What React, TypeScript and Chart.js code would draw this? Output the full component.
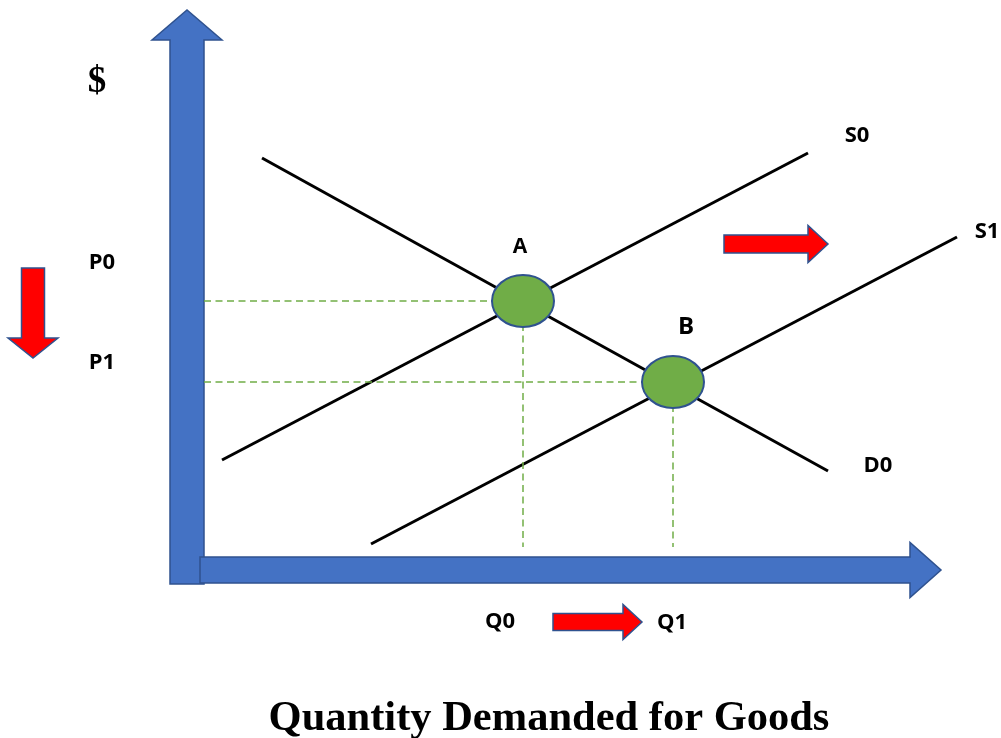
import React, { useEffect, useRef } from "react";
import { Chart, registerables } from "chart.js";

Chart.register(...registerables);

// Quantity (x) and price (y) end points of the curves
const DEMAND_D0_Q = [5.8, 62.4];
const DEMAND_D0_P = [39.9, 8.6];
const SUPPLY_S0_Q = [1.8, 60.4];
const SUPPLY_S0_P = [9.7, 40.4];
const SUPPLY_S1_Q = [16.7, 75.3];
const SUPPLY_S1_P = [1.3, 32.0];

// Equilibrium points before (A) and after (B) the supply shift
const EQUILIBRIUM_NAMES = ["A", "B"];
const EQUILIBRIUM_Q = [31.9, 46.9];
const EQUILIBRIUM_P = [25.6, 17.5];
const GUIDE_FLOOR_P = 1.0;

// Text shown next to the axes and curves
const PRICE_LABELS = ["P0", "P1"];
const QUANTITY_LABELS = ["Q0", "Q1"];
const CURVE_LABELS = ["S0", "S1", "D0"];
const PRICE_AXIS_LABEL = "$";
const QUANTITY_AXIS_TITLE = "Quantity Demanded for Goods";

// Visible window and axis arrow extents, in quantity / price units
const Q_RANGE = [-20.4, 79.7];
const P_RANGE = [-18.1, 55.7];
const AXIS_Q_END = 73.7;
const AXIS_P_END = 54.7;

// Placement of labels and shift arrows (quantity, price)
const LAYOUT = {
  priceAxisLabel: { q: -10.7, p: 47.5 },
  priceLabels: [
    { q: -10.2, p: 29.4 },
    { q: -10.2, p: 19.4 },
  ],
  quantityLabels: [
    { q: 29.6, p: -6.5 },
    { q: 46.8, p: -6.6 },
  ],
  curveLabels: [
    { q: 65.3, p: 42.1 },
    { q: 78.3, p: 32.5 },
    { q: 67.4, p: 9.1 },
  ],
  pointLabels: [
    { q: 31.6, p: 31.0 },
    { q: 48.2, p: 23.0 },
  ],
  title: { q: 34.5, p: -16.2 },
  priceShift: { from: { q: -17.1, p: 28.9 }, to: { q: -17.1, p: 19.9 } },
  supplyShift: { from: { q: 52.0, p: 31.3 }, to: { q: 62.4, p: 31.3 } },
  quantityShift: { from: { q: 34.9, p: -6.5 }, to: { q: 43.8, p: -6.5 } },
};

const AXIS_BLUE = "#4472C4";
const OUTLINE_BLUE = "#2F528F";
const GREEN = "#70AD47";
const RED = "#FF0000";
const LABEL_FONT = '"Open Sans", "Liberation Sans", sans-serif';
const SERIF_FONT = '"Liberation Serif", "Times New Roman", serif';

const pairs = (qs: number[], ps: number[]) => qs.map((q, i) => ({ x: q, y: ps[i] }));

function blockArrow(
  ctx: CanvasRenderingContext2D,
  x0: number,
  y0: number,
  x1: number,
  y1: number,
  shaftHalf: number,
  headHalf: number,
  headLen: number,
  fill: string,
  stroke: string,
  strokeWidth: number
) {
  const len = Math.hypot(x1 - x0, y1 - y0);
  const dx = (x1 - x0) / len;
  const dy = (y1 - y0) / len;
  const nx = -dy;
  const ny = dx;
  const bx = x1 - dx * headLen;
  const by = y1 - dy * headLen;
  ctx.beginPath();
  ctx.moveTo(x0 + nx * shaftHalf, y0 + ny * shaftHalf);
  ctx.lineTo(bx + nx * shaftHalf, by + ny * shaftHalf);
  ctx.lineTo(bx + nx * headHalf, by + ny * headHalf);
  ctx.lineTo(x1, y1);
  ctx.lineTo(bx - nx * headHalf, by - ny * headHalf);
  ctx.lineTo(bx - nx * shaftHalf, by - ny * shaftHalf);
  ctx.lineTo(x0 - nx * shaftHalf, y0 - ny * shaftHalf);
  ctx.closePath();
  ctx.fillStyle = fill;
  ctx.fill();
  ctx.lineWidth = strokeWidth;
  ctx.strokeStyle = stroke;
  ctx.lineJoin = "miter";
  ctx.stroke();
}

const diagramPlugin = {
  id: "supplyDemandDecor",
  beforeDatasetsDraw(chart: any) {
    const { ctx, scales } = chart;
    const xs = scales.x;
    const ys = scales.y;
    const ox = xs.getPixelForValue(0);
    const oy = ys.getPixelForValue(0);
    ctx.save();
    // price axis (vertical block arrow)
    blockArrow(ctx, ox - 17, oy + 27, ox - 17, ys.getPixelForValue(AXIS_P_END), 17, 35, 30, AXIS_BLUE, OUTLINE_BLUE, 1.5);
    // quantity axis (horizontal block arrow)
    blockArrow(ctx, ox - 4, oy + 13, xs.getPixelForValue(AXIS_Q_END), oy + 13, 13, 27.5, 31, AXIS_BLUE, OUTLINE_BLUE, 1.5);
    ctx.restore();
  },
  afterDatasetsDraw(chart: any) {
    const { ctx, scales } = chart;
    const xs = scales.x;
    const ys = scales.y;
    const px = (pt: { q: number; p: number }) => [xs.getPixelForValue(pt.q), ys.getPixelForValue(pt.p)];
    ctx.save();

    // equilibrium markers
    EQUILIBRIUM_Q.forEach((q, i) => {
      const cx = xs.getPixelForValue(q);
      const cy = ys.getPixelForValue(EQUILIBRIUM_P[i]);
      ctx.beginPath();
      ctx.ellipse(cx, cy, 31, 26, 0, 0, Math.PI * 2);
      ctx.fillStyle = GREEN;
      ctx.fill();
      ctx.lineWidth = 2;
      ctx.strokeStyle = OUTLINE_BLUE;
      ctx.stroke();
    });

    // shift arrows
    const arrows = [
      { a: LAYOUT.priceShift, shaft: 11.5, head: 25, len: 20 },
      { a: LAYOUT.supplyShift, shaft: 9, head: 18.5, len: 20 },
      { a: LAYOUT.quantityShift, shaft: 8.5, head: 17.5, len: 19 },
    ];
    arrows.forEach(({ a, shaft, head, len }) => {
      const [x0, y0] = px(a.from);
      const [x1, y1] = px(a.to);
      blockArrow(ctx, x0, y0, x1, y1, shaft, head, len, RED, OUTLINE_BLUE, 1.5);
    });

    // text
    ctx.fillStyle = "#000";
    ctx.textAlign = "center";
    ctx.textBaseline = "middle";
    const put = (text: string, pt: { q: number; p: number }, font: string) => {
      const [x, y] = px(pt);
      ctx.font = font;
      ctx.fillText(text, x, y);
    };
    put(PRICE_AXIS_LABEL, LAYOUT.priceAxisLabel, `bold 37px ${SERIF_FONT}`);
    PRICE_LABELS.forEach((t, i) => put(t, LAYOUT.priceLabels[i], `bold 22px ${LABEL_FONT}`));
    QUANTITY_LABELS.forEach((t, i) => put(t, LAYOUT.quantityLabels[i], `bold 22px ${LABEL_FONT}`));
    CURVE_LABELS.forEach((t, i) => put(t, LAYOUT.curveLabels[i], `bold 22px ${LABEL_FONT}`));
    EQUILIBRIUM_NAMES.forEach((t, i) =>
      put(t, LAYOUT.pointLabels[i], `bold ${i === 0 ? 21 : 24}px ${LABEL_FONT}`)
    );
    put(QUANTITY_AXIS_TITLE, LAYOUT.title, `bold 42.5px ${SERIF_FONT}`);
    ctx.restore();
  },
};

export default function App() {
  const canvasRef = useRef<HTMLCanvasElement | null>(null);

  useEffect(() => {
    const canvas = canvasRef.current;
    if (!canvas) return;

    const guide = (pts: { x: number; y: number }[]) => ({
      data: pts,
      showLine: true,
      borderColor: GREEN,
      borderWidth: 1.5,
      borderDash: [7, 4.5],
      pointRadius: 0,
      fill: false,
    });
    const curve = (pts: { x: number; y: number }[]) => ({
      data: pts,
      showLine: true,
      borderColor: "#000",
      borderWidth: 3,
      pointRadius: 0,
      fill: false,
    });

    const guides = EQUILIBRIUM_Q.flatMap((q, i) => [
      guide([
        { x: 0, y: EQUILIBRIUM_P[i] },
        { x: q, y: EQUILIBRIUM_P[i] },
      ]),
      guide([
        { x: q, y: EQUILIBRIUM_P[i] },
        { x: q, y: GUIDE_FLOOR_P },
      ]),
    ]);

    const chart = new Chart(canvas, {
      type: "scatter",
      data: {
        datasets: [
          ...guides,
          curve(pairs(DEMAND_D0_Q, DEMAND_D0_P)),
          curve(pairs(SUPPLY_S0_Q, SUPPLY_S0_P)),
          curve(pairs(SUPPLY_S1_Q, SUPPLY_S1_P)),
        ] as any,
      },
      options: {
        animation: false,
        responsive: false,
        devicePixelRatio: 1,
        layout: { padding: 0 },
        plugins: {
          legend: { display: false },
          tooltip: { enabled: false },
          title: { display: false },
        },
        scales: {
          x: { type: "linear", min: Q_RANGE[0], max: Q_RANGE[1], display: false },
          y: { type: "linear", min: P_RANGE[0], max: P_RANGE[1], display: false },
        },
      },
      plugins: [diagramPlugin],
    });

    return () => chart.destroy();
  }, []);

  return (
    <div style={{ position: "absolute", left: 0, top: 0, width: 1001, height: 738, background: "#fff" }}>
      <canvas ref={canvasRef} width={1001} height={738} style={{ display: "block" }} />
    </div>
  );
}
